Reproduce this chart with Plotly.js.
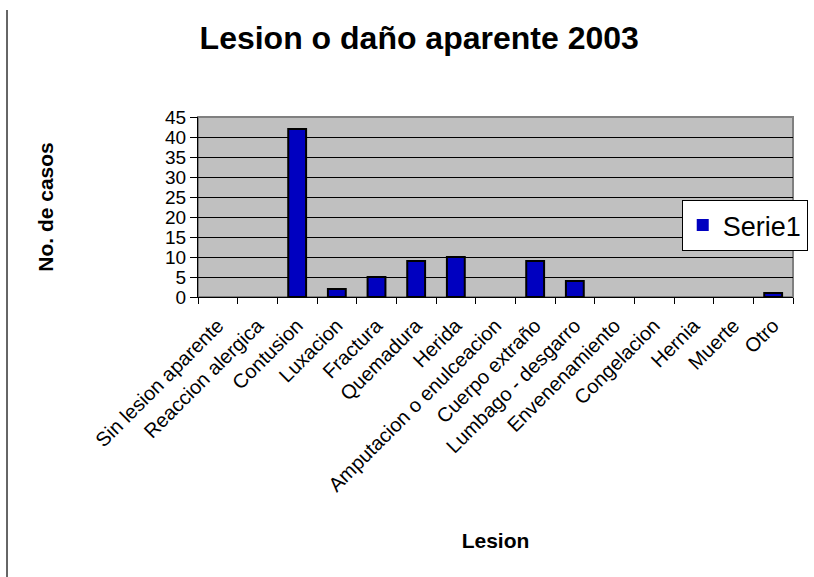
<!DOCTYPE html>
<html>
<head>
<meta charset="utf-8">
<script src="https://cdn.plot.ly/plotly-3.0.1.min.js"></script>
<style>html,body{margin:0;padding:0;background:#fff;}#chart{width:814px;height:577px;}</style>
</head>
<body>
<div id="chart"></div>
<script>
const categories = ["Sin lesion aparente","Reaccion alergica","Contusion","Luxacion","Fractura","Quemadura","Herida","Amputacion o enulceacion","Cuerpo extraño","Lumbago - desgarro","Envenenamiento","Congelacion","Hernia","Muerte","Otro"];
const serie1 = [0,0,42,2,5,9,10,0,9,4,0,0,0,0,1];
const seriesName = "Serie1";
const chartTitle = "Lesion o daño aparente 2003";
const xTitle = "Lesion";
const yTitle = "No. de casos";

const trace = {
  type: "bar",
  x: categories,
  y: serie1,
  name: seriesName,
  width: 0.45,
  marker: {color: "#0000c0", line: {color: "#000000", width: serie1.map(v => v > 0 ? 2 : 0)}},
  showlegend: true
};

const layout = {
  width: 814, height: 577,
  margin: {l: 198, r: 21, t: 117, b: 280, autoexpand: false},
  paper_bgcolor: "#ffffff",
  plot_bgcolor: "#c0c0c0",
  font: {family: "Arial, 'Liberation Sans', sans-serif", color: "#000"},
  title: {text: "<b>" + chartTitle + "</b>", font: {size: 32}, x: 0.515, xref: "container", xanchor: "center", y: 0.935, yref: "container", yanchor: "middle"},
  xaxis: {
    type: "category",
    tickangle: -45,
    tickson: "boundaries",
    ticks: "outside", ticklen: 6, tickcolor: "#000",
    showline: true, linecolor: "#000", linewidth: 1,
    showgrid: false,
    tickfont: {size: 20},
    ticklabelstandoff: 8,
    title: {text: "<b>" + xTitle + "</b>", font: {size: 21}, standoff: 38}
  },
  yaxis: {
    range: [0, 45], dtick: 5,
    ticks: "outside", ticklen: 7, tickcolor: "#000",
    showline: true, linecolor: "#000", linewidth: 1,
    gridcolor: "#000", gridwidth: 1,
    zeroline: false,
    tickfont: {size: 19},
    title: {text: "<b>" + yTitle + "</b>", font: {size: 21}, standoff: 105}
  },
  legend: {x: 0.813, y: 0.539, xanchor: "left", yanchor: "top", bgcolor: "#fff", bordercolor: "#000", borderwidth: 1, font: {size: 27}},
  shapes: [
    {type: "rect", xref: "paper", yref: "paper", x0: 0, x1: 1, y0: 0, y1: 1, line: {color: "#808080", width: 2}, layer: "below"},
    {type: "line", xref: "paper", yref: "paper", x0: -0.321, x1: -0.321, y0: -1.6, y1: 1.594, line: {color: "#333", width: 1.5}}
  ],
  bargap: 0.55
};

Plotly.newPlot("chart", [trace], layout, {displayModeBar: false, staticPlot: true});
</script>
</body>
</html>
